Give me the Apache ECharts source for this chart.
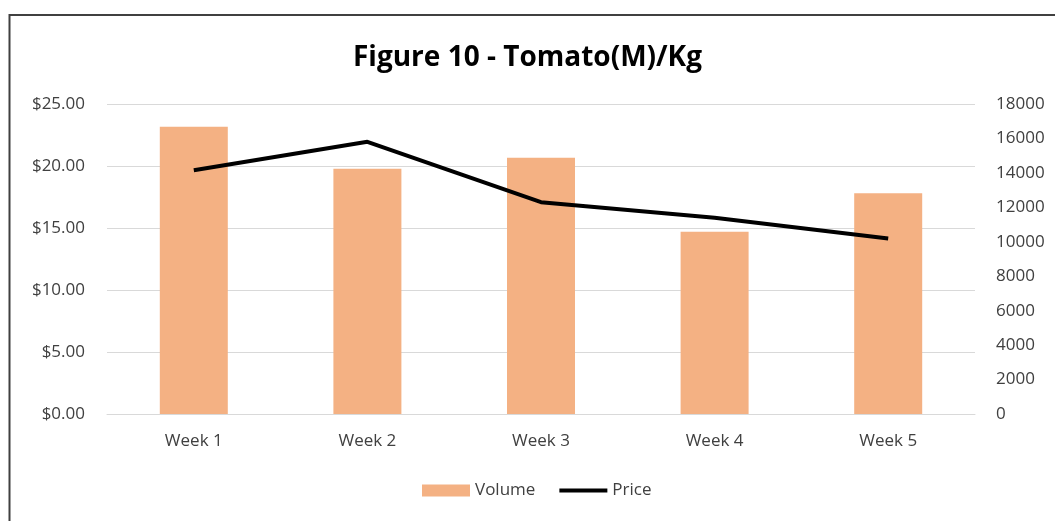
<!DOCTYPE html>
<html>
<head>
<meta charset="utf-8">
<script src="https://cdn.jsdelivr.net/npm/echarts@6/dist/echarts.min.js"></script>
<style>
  html, body { margin: 0; padding: 0; background: #fff; }
  #chart { width: 1055px; height: 521px; }
</style>
</head>
<body>
<div id="chart"></div>
<script>
const weeks = ["Week 1", "Week 2", "Week 3", "Week 4", "Week 5"];
const volume = [16680, 14240, 14880, 10580, 12820];
const price = [19.66, 21.95, 17.08, 15.82, 14.15];

const FONT = "'Open Sans', 'Noto Sans', sans-serif";
const chart = echarts.init(document.getElementById("chart"));

chart.setOption({
  backgroundColor: "#ffffff",
  animation: false,
  title: {
    text: "Figure 10 - Tomato(M)/Kg",
    left: "center",
    top: 39,
    textStyle: { fontFamily: FONT, fontSize: 28, fontWeight: "bold", color: "#000" }
  },
  graphic: [
    {
      type: "rect",
      shape: { x: 9.5, y: 15, width: 1100, height: 600 },
      style: { fill: null, stroke: "#404040", lineWidth: 2 },
      silent: true
    }
  ],
  grid: { left: 107, right: 80, top: 104, bottom: 107 },
  legend: {
    bottom: 17,
    left: 417,
    itemWidth: 48,
    itemHeight: 12,
    itemGap: 24,
    textStyle: { fontFamily: FONT, fontSize: 17, color: "#404040" },
    data: [
      { name: "Volume", icon: "rect" },
      { name: "Price", icon: "path://M0,0 L48,0 L48,4 L0,4 Z" }
    ]
  },
  xAxis: {
    type: "category",
    data: weeks,
    axisTick: { show: false },
    axisLine: { lineStyle: { color: "#d9d9d9" } },
    axisLabel: { fontFamily: FONT, fontSize: 17, color: "#404040", margin: 19 }
  },
  yAxis: [
    {
      type: "value",
      min: 0,
      max: 25,
      interval: 5,
      position: "left",
      axisLine: { show: false },
      axisTick: { show: false },
      splitLine: { lineStyle: { color: "#d9d9d9", width: 1 } },
      axisLabel: {
        fontFamily: FONT, fontSize: 17, color: "#404040", margin: 22,
        formatter: v => "$" + v.toFixed(2)
      }
    },
    {
      type: "value",
      min: 0,
      max: 18000,
      interval: 2000,
      position: "right",
      axisLine: { show: false },
      axisTick: { show: false },
      splitLine: { show: false },
      axisLabel: {
        fontFamily: FONT, fontSize: 17, color: "#404040", margin: 21,
        formatter: v => String(v)
      }
    }
  ],
  series: [
    {
      name: "Volume",
      type: "bar",
      yAxisIndex: 1,
      data: volume,
      barWidth: 68,
      itemStyle: { color: "#F4B183" }
    },
    {
      name: "Price",
      type: "line",
      yAxisIndex: 0,
      data: price,
      symbol: "none",
      lineStyle: { color: "#000000", width: 4 },
      itemStyle: { color: "#000000" }
    }
  ]
});
</script>
</body>
</html>
